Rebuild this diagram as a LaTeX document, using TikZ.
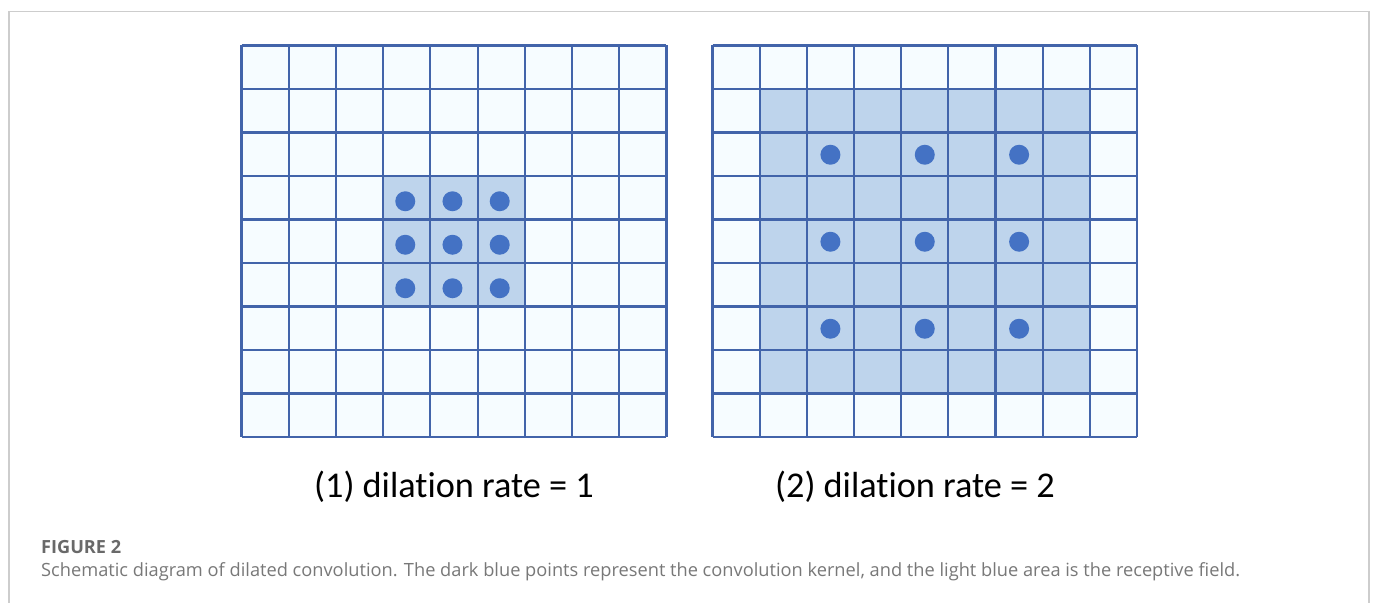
\documentclass[tikz,border=0pt]{standalone}
\usepackage{fontspec}
\setmainfont[Ligatures=CommonOff]{Carlito}
\newfontfamily\capfont[Ligatures=CommonOff]{Open Sans}
\definecolor{gridline}{RGB}{66,100,170}
\definecolor{cellfill}{RGB}{246,252,255}
\definecolor{fieldfill}{RGB}{190,212,236}
\definecolor{kerneldot}{RGB}{68,114,196}
\definecolor{framegray}{RGB}{205,205,205}
\definecolor{capgray}{RGB}{105,105,105}
\definecolor{textgray}{RGB}{120,120,120}
\tikzset{
  gridlines/.style={draw=gridline, line width=2.2bp},
  kernel/.style={fill=kerneldot},
  sublabel/.style={font=\fontsize{36.4}{40}\selectfont, text=black, inner sep=0pt, anchor=base},
  figtitle/.style={font=\capfont\bfseries\fontsize{18.2}{20}\selectfont, text=capgray, inner sep=0pt, anchor=base west},
  figtext/.style={font=\capfont\fontsize{18.3}{20}\selectfont, text=textgray, inner sep=0pt, anchor=base west},
}
\begin{document}
\begin{tikzpicture}[x=1bp, y=-1bp]
\useasboundingbox (0,0) rectangle (1376,603);
\fill[white] (0,0) rectangle (1376,603);
% frame
\draw[framegray, line width=1.3bp] (9,603) -- (9,11.5) -- (1369,11.5) -- (1369,603);

% grid 1
\def\gxa{241.5}\def\gya{45.5}\def\gdx{47.22}\def\gdy{43.5}
\fill[cellfill] (\gxa,\gya) rectangle ({\gxa+9*\gdx},{\gya+9*\gdy});
\fill[fieldfill] ({\gxa+3*\gdx},{\gya+3*\gdy}) rectangle ({\gxa+6*\gdx},{\gya+6*\gdy});
\foreach \i in {0,...,9}{
  \draw[gridlines] ({\gxa+\i*\gdx},\gya) -- ({\gxa+\i*\gdx},{\gya+9*\gdy});
  \draw[gridlines] (\gxa,{\gya+\i*\gdy}) -- ({\gxa+9*\gdx},{\gya+\i*\gdy});
}
\foreach \c in {3,4,5}{
  \foreach \r in {3,4,5}{
    \fill[kernel] ({\gxa+(\c+0.5)*\gdx-1.5},{\gya+(\r+0.5)*\gdy+3.5}) circle (10);
  }
}

% grid 2
\def\hxa{712.5}\def\hdx{47.17}
\fill[cellfill] (\hxa,\gya) rectangle ({\hxa+9*\hdx},{\gya+9*\gdy});
\fill[fieldfill] ({\hxa+1*\hdx},{\gya+1*\gdy}) rectangle ({\hxa+8*\hdx},{\gya+8*\gdy});
\foreach \i in {0,...,9}{
  \draw[gridlines] ({\hxa+\i*\hdx},\gya) -- ({\hxa+\i*\hdx},{\gya+9*\gdy});
  \draw[gridlines] (\hxa,{\gya+\i*\gdy}) -- ({\hxa+9*\hdx},{\gya+\i*\gdy});
}
\foreach \c in {2,4,6}{
  \foreach \r in {2,4,6}{
    \fill[kernel] ({\hxa+(\c+0.5)*\hdx},{\gya+(\r+0.5)*\gdy+0.5}) circle (10);
  }
}

% labels
\node[sublabel] (lab1) at (454,497) {(1) dilation rate = 1};
\node[sublabel] (lab2) at (915,497) {(2) dilation rate = 2};

% caption
\node[figtitle] (figt) at (41,553) {FIGURE 2};
\node[figtext] (figc) at (41,576.5) {Schematic diagram of dilated convolution. The dark blue points represent the convolution kernel, and the light blue area is the receptive field.};
\end{tikzpicture}
\end{document}
